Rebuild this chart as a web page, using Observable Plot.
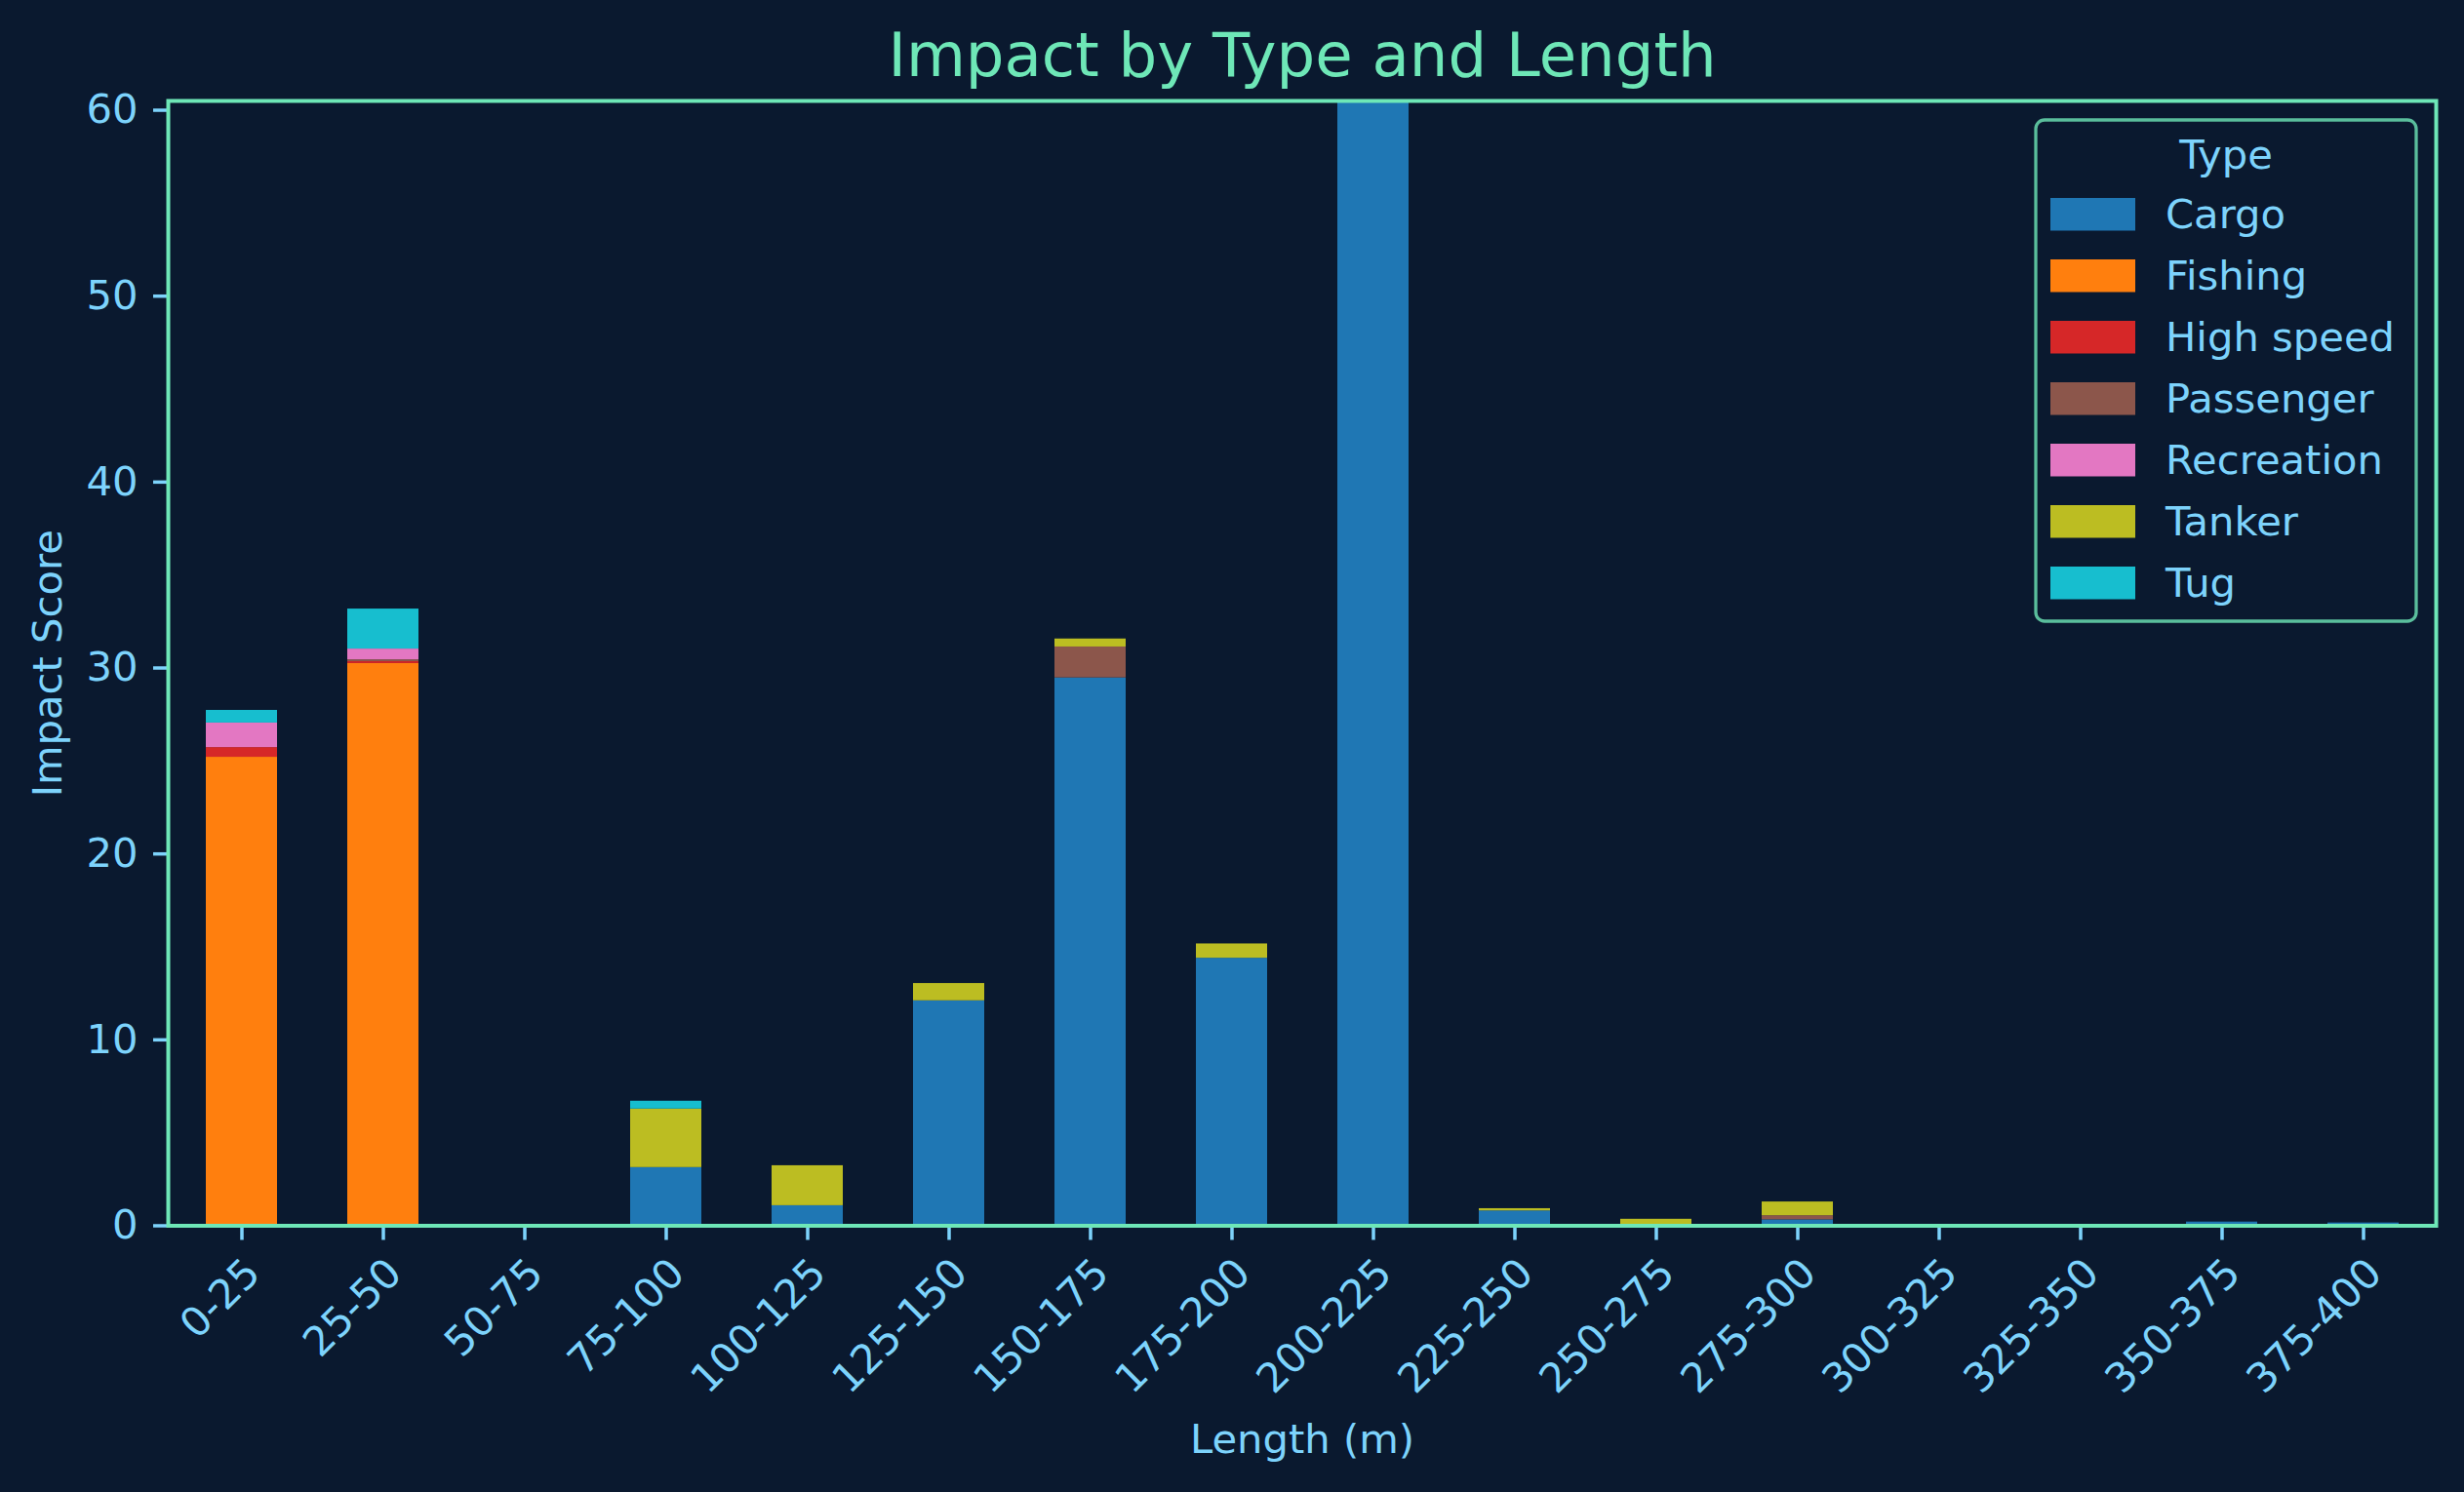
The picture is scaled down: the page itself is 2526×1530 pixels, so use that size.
<!DOCTYPE html>
<html>
<head>
<meta charset="utf-8">
<script src="https://cdn.jsdelivr.net/npm/d3@7"></script>
<script src="https://cdn.jsdelivr.net/npm/@observablehq/plot@0.6"></script>
<style>
  html, body { margin: 0; padding: 0; background: #0a192f; }
  #chart { position: relative; width: 2526px; height: 1530px; overflow: hidden; }
  svg { display: block; }
</style>
</head>
<body>
<div id="chart"></div>
<script>
const bins = ["0-25","25-50","50-75","75-100","100-125","125-150","150-175","175-200","200-225","225-250","250-275","275-300","300-325","325-350","350-375","375-400"];
const types = ["Cargo","Fishing","High speed","Passenger","Recreation","Tanker","Tug"];
const colors = ["#1f77b4","#ff7f0e","#d62728","#8c564b","#e377c2","#bcbd22","#17becf"];
const cargo      = [0, 0, 0, 3.13, 1.08, 12.1, 29.47, 14.39, 61, 0.8, 0, 0.32, 0, 0, 0.2, 0.15];
const fishing    = [25.2, 30.24, 0, 0, 0, 0, 0, 0, 0, 0, 0, 0, 0, 0, 0, 0];
const highSpeed  = [0.52, 0.1, 0, 0, 0, 0, 0, 0, 0, 0, 0, 0, 0, 0, 0, 0];
const passenger  = [0, 0.1, 0, 0, 0, 0, 1.66, 0, 0, 0, 0, 0.22, 0, 0, 0, 0];
const recreation = [1.32, 0.58, 0, 0, 0, 0, 0, 0, 0, 0, 0, 0, 0, 0, 0, 0];
const tanker     = [0, 0, 0.04, 3.15, 2.15, 0.93, 0.43, 0.77, 0, 0.12, 0.35, 0.74, 0.04, 0, 0, 0];
const tug        = [0.68, 2.15, 0, 0.42, 0, 0, 0, 0, 0, 0, 0, 0, 0, 0, 0, 0];
const yTicks = [0, 10, 20, 30, 40, 50, 60];
const title = "Impact by Type and Length";
const xLabel = "Length (m)";
const yLabel = "Impact Score";
const legendTitle = "Type";

const series = [cargo, fishing, highSpeed, passenger, recreation, tanker, tug];
const data = [];
bins.forEach((b, i) => {
  types.forEach((t, j) => data.push({bin: b, type: t, value: series[j][i]}));
});

const BG = "#0a192f", MINT = "#6ee7b7", BLUE = "#7dd3fc", FONT = "DejaVu Sans";
const FS = 41.7;

const W = 2526, H = 1530;
const mt = 103, mb = 273.5, ml = 172, mr = 29;

const plot = Plot.plot({
  width: W, height: H,
  marginTop: mt, marginBottom: mb, marginLeft: ml, marginRight: mr,
  style: {background: BG, fontFamily: FONT, color: BLUE},
  x: {type: "band", domain: bins, paddingInner: 0.5, paddingOuter: 0.25, align: 0.5, label: null},
  y: {domain: [0, 60.5], label: null},
  color: {domain: types, range: colors},
  marks: [
    Plot.barY(data, Plot.stackY({x: "bin", y: "value", fill: "type", order: null, clip: true})),
    Plot.axisY({ticks: yTicks, tickSize: 15, tickPadding: 16, fontSize: FS, stroke: BLUE, fill: BLUE, strokeWidth: 3.5, label: null}),
    Plot.axisX({tickSize: 15, tickFormat: () => "", stroke: BLUE, strokeWidth: 3.5, label: null}),
    Plot.text(bins, {x: d => d, text: d => d, frameAnchor: "bottom", dy: 30, rotate: -45, textAnchor: "end", lineAnchor: "top", fontSize: FS, fill: BLUE}),
    Plot.frame({stroke: MINT, strokeWidth: 4}),
    Plot.text([title], {text: d => d, frameAnchor: "top", dy: -46, lineAnchor: "middle", textAnchor: "middle", fontSize: 62.5, fill: MINT}),
    Plot.text([xLabel], {text: d => d, frameAnchor: "bottom", dy: 220, lineAnchor: "middle", textAnchor: "middle", fontSize: FS, fill: BLUE}),
    Plot.text([yLabel], {text: d => d, frameAnchor: "left", dx: -123.3, rotate: -90, lineAnchor: "middle", textAnchor: "middle", fontSize: FS, fill: BLUE})
  ]
});
document.getElementById("chart").appendChild(plot);

// legend drawn into the same svg
const svg = d3.select(plot);
const lg = svg.append("g").attr("font-family", FONT);
const lx = 2087, ly = 123, lw = 390, lh = 514;
lg.append("rect").attr("x", lx).attr("y", ly).attr("width", lw).attr("height", lh)
  .attr("rx", 9).attr("ry", 9).attr("fill", BG).attr("fill-opacity", 0.8)
  .attr("stroke", "#5abe9c").attr("stroke-width", 3.3);
lg.append("text").attr("x", lx + lw / 2).attr("y", 173).attr("text-anchor", "middle")
  .attr("font-size", FS).attr("fill", BLUE).text(legendTitle);
types.forEach((t, i) => {
  const top = 203 + i * 63;
  lg.append("rect").attr("x", 2102).attr("y", top).attr("width", 87).attr("height", 33.5).attr("fill", colors[i]);
  lg.append("text").attr("x", 2220).attr("y", top + 31).attr("text-anchor", "start")
    .attr("font-size", FS).attr("fill", BLUE).text(t);
});
</script>
</body>
</html>
